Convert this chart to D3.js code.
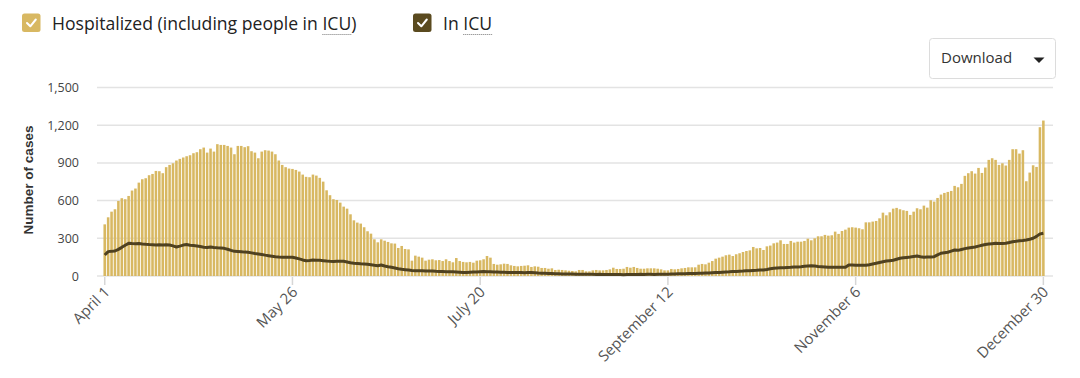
<!DOCTYPE html>
<html>
<head>
<meta charset="utf-8">
<script src="https://cdn.jsdelivr.net/npm/d3@7"></script>
<style>
  body { margin: 0; background: #fff; }
  svg text { font-family: "Open Sans", sans-serif; }
</style>
</head>
<body>
<svg id="chart" width="1080" height="378"></svg>
<script>
// Hospitalized per day (April 1 -> December 30), one bar per day
const hospitalized = [
  411,467,512,531,597,619,611,637,680,696,
  743,770,778,802,812,836,834,818,866,884,
  897,919,932,943,953,961,977,985,1009,1022,
  982,1014,990,1049,1043,1043,1035,1022,969,1035,
  1035,1025,1033,993,982,937,990,1001,998,990,
  969,919,884,866,855,852,844,831,807,789,
  786,807,799,781,751,682,643,
  611,605,584,552,536,491,443,425,417,388,
  356,337,292,268,292,281,271,260,258,223,
  239,215,212,122,162,154,146,122,130,133,
  125,127,119,133,119,109,143,119,112,109,
  112,106,122,125,133,159,146,96,90,93,
  98,96,85,80,77,80,82,85,72,77,
  74,64,64,58,61,48,50,48,
  45,42,40,37,48,48,37,37,45,48,
  45,45,48,53,66,56,56,58,72,66,
  72,64,58,58,61,61,61,58,53,45,
  45,56,53,56,61,64,69,69,69,90,
  96,93,106,119,138,146,154,165,170,159,
  173,181,191,199,204,231,220,223,207,236,
  242,260,266,284,255,255,279,266,273,
  273,279,297,284,300,316,316,327,321,324,
  353,335,358,369,385,388,385,380,372,427,
  427,433,438,459,504,483,507,536,542,531,
  523,518,486,512,539,531,560,544,603,592,
  621,648,661,669,677,717,706,733,797,818,
  834,815,860,820,863,924,937,924,884,897,
  879,924,1009,1009,974,1001,754,823,881,868,
  1184,1237
];

// In ICU per day
const icu = [
  167,194,196,199,212,228,245,260,258,257,
  259,255,252,250,249,247,248,246,248,247,
  240,231,238,246,250,245,242,239,234,229,
  226,231,227,224,222,220,213,204,196,195,
  193,190,189,184,179,175,171,166,162,158,
  154,151,150,150,149,149,143,136,128,122,
  124,127,126,125,122,119,117,
  116,117,118,117,112,106,101,99,97,96,
  93,89,85,82,88,80,74,69,64,58,
  53,50,47,44,42,41,41,40,40,39,
  37,36,35,34,33,33,32,30,28,27,
  29,31,32,34,35,34,33,32,32,30,
  29,28,27,27,28,27,26,27,27,25,
  23,22,21,20,19,18,17,16,
  16,15,15,14,14,13,14,13,13,12,
  13,12,12,11,12,11,11,10,11,11,
  12,12,13,12,13,13,12,13,13,13,
  14,15,16,17,17,18,19,20,20,21,
  22,23,24,26,27,28,30,32,33,35,
  36,38,39,41,42,44,45,47,48,52,
  57,61,63,65,66,68,69,71,72,
  74,77,80,82,79,76,74,72,70,69,
  69,70,69,69,88,87,86,86,85,85,
  90,96,101,108,114,119,122,125,133,141,
  145,148,151,155,159,153,149,151,152,154,
  168,181,185,189,198,207,204,211,218,223,
  227,231,238,244,250,254,257,260,258,259,
  260,266,273,276,280,283,287,293,300,315,
  335,340
];

const tickIndex = [0, 55, 110, 165, 220, 275];
const tickLabels = ["April 1", "May 26", "July 20", "September 12", "November 6", "December 30"];
const yTicks = [0, 300, 600, 900, 1200, 1500];

const colHosp = "#d8b862";
const colIcu = "#4f4120";

const svg = d3.select("#chart");
const days = d3.range(hospitalized.length);

const x = d3.scaleBand()
  .domain(days)
  .range([102.6, 1045.5])
  .paddingInner(0.25)
  .paddingOuter(0.25);

const y = d3.scaleLinear()
  .domain([0, 1500])
  .range([276, 87.5]);

// gridlines + y labels
svg.append("g")
  .selectAll("line")
  .data(yTicks)
  .enter().append("line")
    .attr("x1", 97).attr("x2", 1053)
    .attr("y1", d => y(d)).attr("y2", d => y(d))
    .attr("stroke", "#e3e3e3")
    .attr("stroke-width", 1.5);

svg.append("g")
  .selectAll("text")
  .data(yTicks)
  .enter().append("text")
    .attr("x", 79)
    .attr("y", d => y(d) + 4.5)
    .attr("text-anchor", "end")
    .style("font-size", "12.5px")
    .style("fill", "#444")
    .text(d => d3.format(",")(d));

// y title
svg.append("text")
  .attr("transform", "translate(33,180) rotate(-90)")
  .attr("text-anchor", "middle")
  .style("font-family", "'Liberation Sans', Arial, sans-serif")
  .style("font-weight", "bold")
  .style("font-size", "13.5px")
  .style("fill", "#333")
  .text("Number of cases");

// bars
svg.append("g")
  .selectAll("rect")
  .data(days)
  .enter().append("rect")
    .attr("x", d => x(d))
    .attr("y", d => y(hospitalized[d]))
    .attr("width", x.bandwidth())
    .attr("height", d => y(0) - y(hospitalized[d]))
    .attr("fill", colHosp);

// ICU line
const line = d3.line()
  .x(d => x(d) + x.bandwidth() / 2)
  .y(d => y(icu[d]));

svg.append("path")
  .datum(days)
  .attr("d", line)
  .attr("fill", "none")
  .attr("stroke", colIcu)
  .attr("stroke-width", 3)
  .attr("stroke-linejoin", "round");

// x axis ticks + labels
const xt = svg.append("g");
xt.selectAll("line")
  .data(tickIndex)
  .enter().append("line")
    .attr("x1", d => x(d) + x.bandwidth() / 2)
    .attr("x2", d => x(d) + x.bandwidth() / 2)
    .attr("y1", 277).attr("y2", 285)
    .attr("stroke", "#d6d6d6")
    .attr("stroke-width", 1.5);

xt.selectAll("text")
  .data(tickIndex)
  .enter().append("text")
    .attr("transform", d => `translate(${x(d) + x.bandwidth() / 2 + 6},${293}) rotate(-45)`)
    .attr("text-anchor", "end")
    .style("font-size", "15px")
    .style("fill", "#555")
    .text((d, i) => tickLabels[i]);

// legend
const legend = [
  {x: 22, label: "Hospitalized (including people in ", abbr: "ICU", tail: ")", color: colHosp},
  {x: 413, label: "In ", abbr: "ICU", tail: "", color: "#5a4a1f"}
];

legend.forEach(l => {
  const g = svg.append("g");
  g.append("rect")
    .attr("x", l.x).attr("y", 13.5)
    .attr("width", 18.5).attr("height", 18.5)
    .attr("rx", 2.5)
    .attr("fill", l.color);
  g.append("path")
    .attr("d", `M${l.x + 5},${23} L${l.x + 8.3},${26.3} L${l.x + 13.8},${19.5}`)
    .attr("fill", "none")
    .attr("stroke", "#fff")
    .attr("stroke-width", 2)
    .attr("stroke-linecap", "round")
    .attr("stroke-linejoin", "round");
  const t = g.append("text")
    .attr("x", l.x + 30).attr("y", 29.5)
    .style("font-size", "17.6px")
    .style("fill", "#222");
  t.append("tspan").text(l.label);
  t.append("tspan").text(l.abbr);
  t.append("tspan").text(l.tail);
  const node = t.node();
  const start = node.getSubStringLength(0, l.label.length);
  const w = node.getSubStringLength(l.label.length, l.abbr.length);
  g.append("line")
    .attr("x1", l.x + 30 + start).attr("x2", l.x + 30 + start + w)
    .attr("y1", 34.5).attr("y2", 34.5)
    .attr("stroke", "#777")
    .attr("stroke-width", 1)
    .attr("stroke-dasharray", "1,1");
});

// download button
const btn = svg.append("g");
btn.append("rect")
  .attr("x", 929.5).attr("y", 38.5)
  .attr("width", 126).attr("height", 40)
  .attr("rx", 3)
  .attr("fill", "#fff")
  .attr("stroke", "#dcdcdc");
btn.append("text")
  .attr("x", 941).attr("y", 63)
  .style("font-size", "15px")
  .style("fill", "#333")
  .text("Download");
btn.append("path")
  .attr("d", "M1033.5,57.5 L1044.5,57.5 L1039,63 Z")
  .attr("fill", "#222");
</script>
</body>
</html>
